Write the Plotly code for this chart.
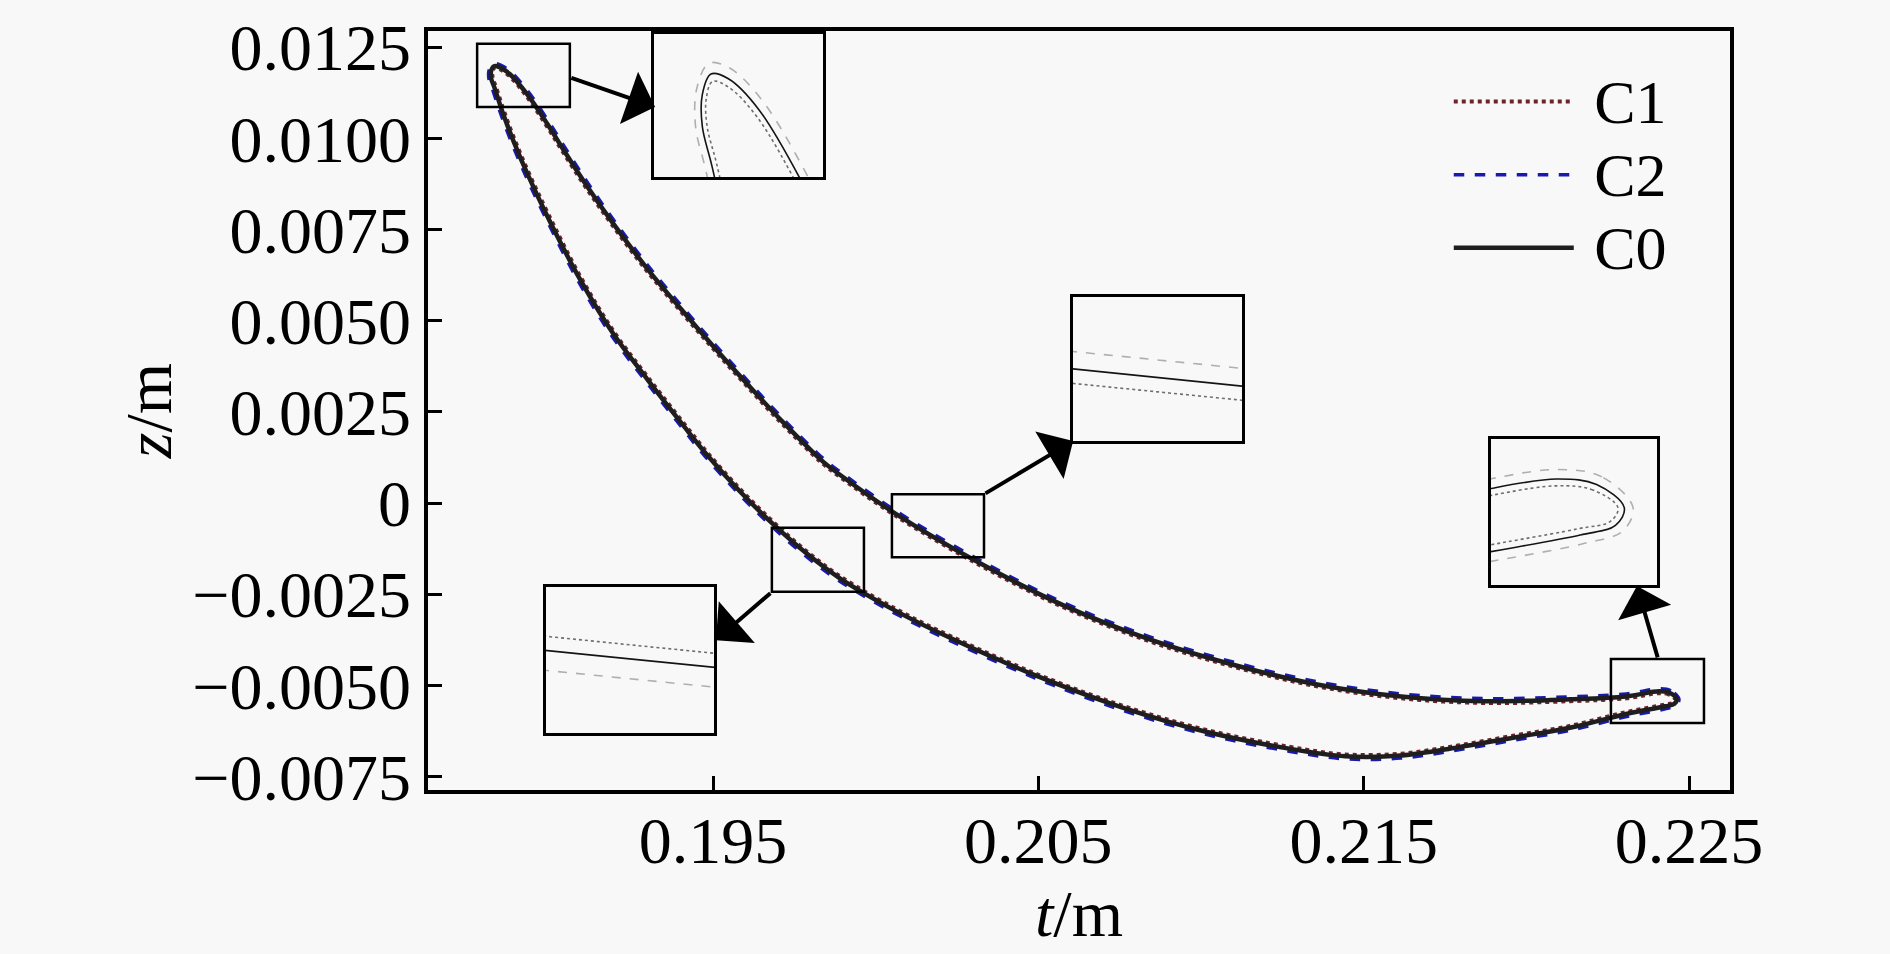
import plotly.graph_objects as go

# ---------------------------------------------------------------- data
# blade profile, closed loop: trailing edge -> suction side -> leading edge -> pressure side -> trailing edge
t_c0 = [0.22462, 0.22440, 0.22408, 0.22307, 0.22134, 0.21873, 0.21615, 0.21357, 0.21099, 0.20840,
        0.20579, 0.20321, 0.20063, 0.19890, 0.19838, 0.19715, 0.19605, 0.19500, 0.19399, 0.19297,
        0.19193, 0.19113, 0.19039, 0.18990, 0.18928, 0.18876, 0.18845, 0.18827, 0.18818, 0.18818,
        0.18828, 0.18854, 0.18888, 0.18930, 0.18990, 0.19091, 0.19193, 0.19297, 0.19408, 0.19482,
        0.19583, 0.19684, 0.19789, 0.19890, 0.20063, 0.20235, 0.20493, 0.20754, 0.21012, 0.21271,
        0.21443, 0.21615, 0.21787, 0.21959, 0.22134, 0.22307, 0.22427, 0.22455, 0.22462]
z_c0 = [-0.00537, -0.00520, -0.00516, -0.00530, -0.00538, -0.00543, -0.00530, -0.00497, -0.00443, -0.00373,
        -0.00281, -0.00165, -0.00030, 0.00078, 0.00114, 0.00222, 0.00327, 0.00431, 0.00535, 0.00644,
        0.00767, 0.00869, 0.00971, 0.01041, 0.01122, 0.01176, 0.01195, 0.01198, 0.01185, 0.01165,
        0.01140, 0.01070, 0.00990, 0.00902, 0.00788, 0.00614, 0.00465, 0.00341, 0.00214, 0.00132,
        0.00032, -0.00057, -0.00139, -0.00206, -0.00296, -0.00372, -0.00473, -0.00559, -0.00626, -0.00673,
        -0.00694, -0.00692, -0.00670, -0.00643, -0.00616, -0.00578, -0.00557, -0.00550, -0.00537]

t_c1 = [0.22457, 0.22437, 0.224075, 0.22307, 0.22134, 0.21873, 0.216145, 0.21356, 0.210975, 0.208383,
        0.20577, 0.203188, 0.200605, 0.198873, 0.198353, 0.19712, 0.196018, 0.194965, 0.193955, 0.192933,
        0.191893, 0.19109, 0.19035, 0.18986, 0.189245, 0.18874, 0.188445, 0.188285, 0.18822, 0.18823,
        0.188328, 0.188587, 0.188925, 0.189344, 0.189943, 0.19095, 0.191968, 0.193005, 0.194115, 0.194855,
        0.195863, 0.19687, 0.19792, 0.198925, 0.20065, 0.20237, 0.204948, 0.207555, 0.21013, 0.212715,
        0.21443, 0.21615, 0.217865, 0.219583, 0.22133, 0.223058, 0.22425, 0.22451, 0.22457]
z_c1 = [-0.00537, -0.00524, -0.00521, -0.00535, -0.00543, -0.00548, -0.00535, -0.00502, -0.004478, -0.003777,
        -0.002855, -0.001694, -0.000343, 0.000739, 0.001099, 0.00218, 0.003233, 0.004275, 0.005315, 0.006408,
        0.007638, 0.00866, 0.00968, 0.01038, 0.011185, 0.011715, 0.0119, 0.011933, 0.01182, 0.01165,
        0.011415, 0.010718, 0.00992, 0.009043, 0.007915, 0.00617, 0.004683, 0.003445, 0.002175, 0.001355,
        0.000358, -0.00053, -0.00135, -0.002018, -0.002915, -0.003675, -0.004684, -0.005543, -0.00621, -0.00668,
        -0.00689, -0.00687, -0.00665, -0.00638, -0.00611, -0.005732, -0.005525, -0.00547, -0.00537]

t_c2 = [0.22469, 0.224442, 0.224087, 0.22307, 0.22134, 0.21873, 0.216157, 0.213584, 0.211011, 0.208425,
        0.205818, 0.203242, 0.200665, 0.198939, 0.198419, 0.197192, 0.196096, 0.195049, 0.194039, 0.193023,
        0.191983, 0.191186, 0.190446, 0.189956, 0.189329, 0.188788, 0.188457, 0.188249, 0.188124, 0.18811,
        0.188214, 0.188475, 0.188817, 0.189238, 0.18984, 0.190854, 0.191878, 0.192921, 0.194031, 0.194771,
        0.195785, 0.196798, 0.197848, 0.198865, 0.200602, 0.202322, 0.204906, 0.207519, 0.210106, 0.212703,
        0.21443, 0.21615, 0.217877, 0.219601, 0.221354, 0.223088, 0.224298, 0.224606, 0.22469]
z_c2 = [-0.00537, -0.005144, -0.00509, -0.00523, -0.00531, -0.00536, -0.00523, -0.0049, -0.004364, -0.003665,
        -0.002747, -0.001588, -0.00024, 0.000838, 0.001198, 0.002276, 0.003323, 0.004359, 0.005399, 0.006486,
        0.007716, 0.008732, 0.009752, 0.010452, 0.011269, 0.011823, 0.01202, 0.012047, 0.011892, 0.01165,
        0.011379, 0.010676, 0.009872, 0.008989, 0.007855, 0.006098, 0.004605, 0.003361, 0.002091, 0.001271,
        0.000268, -0.000626, -0.001446, -0.00212, -0.003023, -0.003783, -0.004795, -0.005657, -0.00633, -0.0068,
        -0.00701, -0.00699, -0.00677, -0.0065, -0.00623, -0.005848, -0.005633, -0.005542, -0.00537]

x_ticks = [0.195, 0.205, 0.215, 0.225]
x_ticktext = ["0.195", "0.205", "0.215", "0.225"]
y_ticks = [-0.0075, -0.005, -0.0025, 0, 0.0025, 0.005, 0.0075, 0.01, 0.0125]
y_ticktext = ["\u22120.0075", "\u22120.0050", "\u22120.0025", "0", "0.0025", "0.0050", "0.0075", "0.0100", "0.0125"]

# ---------------------------------------------------------------- figure
font_family = "Liberation Serif, Times New Roman, serif"
fig = go.Figure()

legend_name = '<span style="font-size:62px"> %s</span>'
fig.add_trace(go.Scatter(x=t_c1, y=z_c1, name=legend_name % "C1", mode="lines", line_shape="spline",
                         line=dict(color="rgb(110,35,45)", width=4, dash="dot")))
fig.add_trace(go.Scatter(x=t_c2, y=z_c2, name=legend_name % "C2", mode="lines", line_shape="spline",
                         line=dict(color="rgb(25,25,175)", width=3.5, dash="dash")))
fig.add_trace(go.Scatter(x=t_c0, y=z_c0, name=legend_name % "C0", mode="lines", line_shape="spline",
                         line=dict(color="rgb(30,30,30)", width=4.5)))

# insets: zoomed views (axis number, x domain, y domain, x range, y range)
insets = [
    (2, [0.1736, 0.3034], [0.8078, 0.9961], [0.18768, 0.18943], [0.011332, 0.012232]),
    (3, [0.4954, 0.6252], [0.4597, 0.6494], [0.201433, 0.201567], [-0.001043, -0.000433]),
    (4, [0.0906, 0.2197], [0.0753, 0.2675], [0.198248, 0.198353], [-0.001993, -0.001373]),
    (5, [0.8164, 0.9439], [0.2701, 0.4623], [0.22356, 0.22488], [-0.005937, -0.004867]),
]
for n, xd, yd, xr, yr in insets:
    for tt, zz, col, dash in [(t_c2, z_c2, "rgb(175,175,175)", "dash"),
                              (t_c1, z_c1, "rgb(110,110,110)", "dot"),
                              (t_c0, z_c0, "rgb(20,20,20)", "solid")]:
        fig.add_trace(go.Scatter(x=tt, y=zz, mode="lines", line_shape="spline", showlegend=False,
                                 line=dict(color=col, width=1.6, dash=dash),
                                 xaxis="x%d" % n, yaxis="y%d" % n, hoverinfo="skip"))
    fig.update_layout(**{
        "xaxis%d" % n: dict(domain=xd, range=xr, anchor="y%d" % n, showticklabels=False, ticks="",
                            showgrid=False, zeroline=False, showline=True, mirror=True,
                            linecolor="black", linewidth=2.5),
        "yaxis%d" % n: dict(domain=yd, range=yr, anchor="x%d" % n, showticklabels=False, ticks="",
                            showgrid=False, zeroline=False, showline=True, mirror=True,
                            linecolor="black", linewidth=2.5),
    })

# source boxes of the zoomed views (t0, t1, z0, z1)
boxes = [(0.18775, 0.19060, 0.010865, 0.012595),
         (0.20050, 0.20333, -0.001486, 0.000243),
         (0.19681, 0.19964, -0.002432, -0.000676),
         (0.22260, 0.22546, -0.006027, -0.004270)]
for x0, x1, y0, y1 in boxes:
    fig.add_shape(type="rect", xref="x", yref="y", x0=x0, x1=x1, y0=y0, y1=y1,
                  line=dict(color="black", width=2.5))

# arrows: head (t, z) <- tail (t, z)
arrows = [(0.19322, 0.010865, 0.19060, 0.011676),
          (0.20607, 0.001703, 0.20333, 0.000243),
          (0.19509, -0.003757, 0.19681, -0.002432),
          (0.22340, -0.002270, 0.22405, -0.004270)]
for hx, hy, tx, ty in arrows:
    fig.add_annotation(x=hx, y=hy, ax=tx, ay=ty, xref="x", yref="y", axref="x", ayref="y",
                       text="", showarrow=True, arrowhead=1, arrowsize=2.3, arrowwidth=4,
                       arrowcolor="black", standoff=0)

axis_common = dict(showline=True, mirror=True, linecolor="black", linewidth=3.5,
                   ticks="inside", ticklen=14, tickwidth=2.5, tickcolor="black",
                   showgrid=False, zeroline=False,
                   tickfont=dict(family=font_family, size=66, color="black"))

fig.update_layout(
    width=1890, height=954,
    margin=dict(l=428, r=160, t=20, b=164),
    paper_bgcolor="#f8f8f8", plot_bgcolor="#f8f8f8",
    font=dict(family=font_family, size=60, color="black"),
    xaxis=dict(range=[0.18624, 0.22626], tickvals=x_ticks, ticktext=x_ticktext, ticklabelstandoff=-10,
               title=dict(text="<i>t</i>/m", font=dict(family=font_family, size=66), standoff=0),
               **axis_common),
    yaxis=dict(range=[-0.007865, 0.012946], tickvals=y_ticks, ticktext=y_ticktext,
               title=dict(text="<i>z</i>/m", font=dict(family=font_family, size=66), standoff=0),
               **axis_common),
    legend=dict(x=0.784, y=0.962, xanchor="left", yanchor="top", bgcolor="rgba(0,0,0,0)",
                font=dict(family=font_family, size=54), itemwidth=120, tracegroupgap=0),
)

fig.write_html("out.html", config={"displayModeBar": False},
               post_script="document.body.style.margin='0px';document.body.style.backgroundColor='#f8f8f8';")
